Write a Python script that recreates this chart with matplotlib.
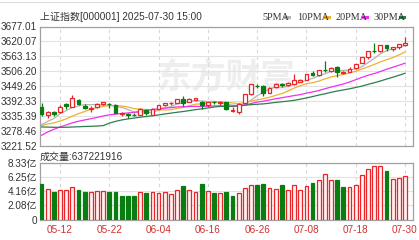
import numpy as np
import matplotlib
matplotlib.use('Agg')
import matplotlib.pyplot as plt

plt.rcParams['font.family'] = ['Liberation Sans', 'Noto Sans CJK SC', 'DejaVu Sans']

# trading days 2025-05-07 .. 2025-07-30
opens = [3371, 3339, 3350, 3352, 3381, 3372, 3398, 3374, 3361, 3371,
         3382, 3383, 3379, 3344, 3345, 3341, 3341, 3358, 3340, 3363,
         3377, 3384, 3387, 3400, 3388, 3398, 3388, 3376, 3389, 3386,
         3390, 3356, 3351, 3384, 3420, 3452, 3452, 3424, 3446, 3457,
         3455, 3457, 3467, 3474, 3500, 3491, 3512, 3507, 3522, 3501,
         3505, 3517, 3537, 3560, 3585, 3582, 3605, 3590, 3597, 3605]
highs = [3387, 3355, 3355, 3378, 3384, 3417, 3401, 3383, 3374, 3385,
         3391, 3386, 3383, 3352, 3347, 3349, 3365, 3362, 3368, 3377,
         3387, 3388, 3401, 3411, 3404, 3404, 3393, 3391, 3393, 3394,
         3391, 3369, 3386, 3421, 3458, 3456, 3453, 3445, 3460, 3462,
         3465, 3497, 3476, 3497, 3506, 3511, 3544, 3522, 3526, 3509,
         3521, 3535, 3560, 3583, 3613, 3606, 3608, 3600, 3610, 3636]
lows = [3335, 3330, 3335, 3349, 3362, 3371, 3377, 3362, 3353, 3368,
        3376, 3366, 3347, 3336, 3327, 3337, 3340, 3338, 3340, 3361,
        3374, 3376, 3385, 3374, 3388, 3393, 3364, 3370, 3381, 3378,
        3359, 3353, 3344, 3384, 3415, 3441, 3414, 3422, 3442, 3448,
        3449, 3453, 3464, 3472, 3487, 3489, 3503, 3503, 3485, 3496,
        3503, 3516, 3537, 3555, 3575, 3580, 3583, 3584, 3590, 3603]
closes = [3342.67, 3352.00, 3342.00, 3369.24, 3374.87, 3403.95, 3380.82, 3367.46, 3367.58, 3380.48,
          3387.57, 3380.19, 3348.37, 3346.84, 3340.69, 3339.93, 3363.45, 3347.49, 3361.98, 3376.20,
          3384.82, 3385.36, 3399.77, 3384.82, 3402.32, 3402.66, 3377.00, 3388.81, 3387.40, 3388.81,
          3362.11, 3359.90, 3381.58, 3420.57, 3455.97, 3448.45, 3424.23, 3444.43, 3457.75, 3454.79,
          3461.15, 3472.32, 3473.13, 3497.48, 3493.05, 3509.68, 3510.18, 3519.65, 3505.00, 3503.78,
          3516.83, 3534.48, 3559.79, 3581.86, 3582.30, 3605.73, 3593.66, 3597.94, 3609.71, 3615.72]

ma5 = [3302.6, 3315.3, 3326.4, 3344.4, 3356.2, 3368.4, 3374.2, 3379.3, 3378.9, 3380.1,
       3376.8, 3376.7, 3372.8, 3368.7, 3360.7, 3351.2, 3347.9, 3347.7, 3350.7, 3357.8,
       3366.8, 3371.2, 3381.6, 3386.2, 3391.4, 3395.0, 3393.3, 3391.1, 3391.6, 3388.9,
       3380.8, 3377.4, 3376.0, 3382.6, 3396.0, 3413.3, 3426.2, 3438.7, 3446.2, 3445.9,
       3448.5, 3458.1, 3463.8, 3471.8, 3479.4, 3489.1, 3496.7, 3506.0, 3507.5, 3509.7,
       3511.1, 3515.9, 3524.0, 3539.3, 3555.1, 3572.8, 3584.7, 3592.3, 3597.9, 3604.6]
ma10 = [3299.3, 3305.3, 3309.6, 3316.8, 3324.6, 3335.5, 3344.7, 3352.8, 3361.7, 3368.1,
        3372.6, 3375.4, 3376.1, 3373.8, 3370.4, 3364.0, 3362.3, 3360.3, 3359.7, 3359.3,
        3359.0, 3359.5, 3364.7, 3368.5, 3374.6, 3380.9, 3382.2, 3386.4, 3388.9, 3390.2,
        3387.9, 3385.4, 3383.5, 3387.1, 3392.5, 3397.1, 3401.8, 3407.3, 3414.4, 3421.0,
        3430.9, 3442.1, 3451.3, 3459.0, 3462.7, 3468.8, 3477.4, 3484.9, 3489.6, 3494.5,
        3500.1, 3506.3, 3515.0, 3523.4, 3532.4, 3542.0, 3550.3, 3558.1, 3568.6, 3579.8]
ma20 = [3262.4, 3275.1, 3285.0, 3294.1, 3301.6, 3309.9, 3315.8, 3320.8, 3325.4, 3330.4,
        3335.9, 3340.4, 3342.8, 3345.3, 3347.5, 3349.7, 3353.5, 3356.5, 3360.7, 3363.7,
        3365.8, 3367.5, 3370.4, 3371.1, 3372.5, 3372.4, 3372.2, 3373.3, 3374.3, 3374.7,
        3373.5, 3372.4, 3374.1, 3377.8, 3383.5, 3389.0, 3392.0, 3396.9, 3401.6, 3405.6,
        3409.4, 3413.7, 3417.4, 3423.0, 3427.6, 3432.9, 3439.6, 3446.1, 3452.0, 3457.8,
        3465.5, 3474.2, 3483.1, 3491.2, 3497.5, 3505.4, 3513.9, 3521.5, 3529.1, 3537.2]
ma30 = [3294.1, 3293.6, 3292.7, 3292.7, 3292.9, 3293.9, 3294.9, 3295.9, 3296.6, 3297.6,
        3299.1, 3308.6, 3315.3, 3320.7, 3324.6, 3327.9, 3331.3, 3334.0, 3336.8, 3340.0,
        3343.6, 3346.8, 3350.1, 3353.0, 3356.5, 3360.1, 3363.1, 3366.5, 3370.1, 3372.5,
        3373.2, 3373.4, 3374.7, 3376.5, 3379.2, 3380.6, 3382.1, 3384.7, 3387.7, 3390.1,
        3392.6, 3395.7, 3399.8, 3404.8, 3409.9, 3415.6, 3420.5, 3426.2, 3431.0, 3435.2,
        3439.6, 3444.6, 3449.9, 3456.5, 3462.5, 3469.3, 3476.5, 3483.5, 3490.9, 3498.4]

# volume in 亿 shares
volumes = [5.18, 4.43, 4.08, 4.28, 4.28, 4.73, 4.28, 4.08, 4.08, 4.13,
           4.13, 4.08, 4.08, 3.53, 3.43, 3.43, 4.08, 3.88, 4.08, 3.88,
           4.08, 3.83, 4.28, 4.93, 4.28, 4.08, 5.18, 4.13, 3.93, 3.88,
           4.08, 3.53, 3.93, 4.58, 5.13, 5.03, 5.28, 4.58, 4.53, 5.03,
           4.38, 5.13, 4.38, 4.98, 5.33, 5.78, 6.73, 5.88, 5.88, 4.73,
           4.73, 5.03, 6.53, 7.38, 7.88, 7.88, 7.13, 6.03, 6.18, 6.37]

date_ticks = [3, 11, 19, 27, 35, 43, 51, 59]
date_labels = ['05-12', '05-22', '06-04', '06-16', '06-26', '07-08', '07-18', '07-30']
price_ticks = [3221.52, 3278.46, 3335.39, 3392.33, 3449.26, 3506.20, 3563.13, 3620.07, 3677.01]
vol_ticks = [0, 2.08, 4.16, 6.25, 8.33]
vol_labels = ['0', '2.08亿', '4.16亿', '6.25亿', '8.33亿']

RED = '#e8262a'
GREEN = '#0a7d12'
MA_COLORS = ['#b4b4b4', '#f0b030', '#f030f0', '#2e7d4e']
TXT = '#333333'
FS = 7.2
W, H = 419, 240

fig = plt.figure(figsize=(W / 100, H / 100), dpi=100)
fig.patch.set_facecolor('white')

ax = fig.add_axes([40 / W, 1 - 146 / H, 373 / W, 119.5 / H])
axv = fig.add_axes([40 / W, 1 - 219.5 / H, 373 / W, 56.5 / H])

x = np.arange(len(closes))

# watermark
ax.text(0.5, 0.58, '东方财富', transform=ax.transAxes, fontsize=25,
        color='#eeeeee', ha='center', va='center', style='italic',
        family=['Noto Sans CJK SC'], fontweight='bold', zorder=0)

for a in (ax, axv):
    a.set_xlim(-0.25, 60.3)
    a.set_xticks(date_ticks)
    a.grid(axis='y', color='#e2e2e2', lw=0.8)
    a.grid(axis='x', color='#d8d8d8', lw=0.8, ls=(0, (3, 3)))
    a.set_axisbelow(True)
    a.tick_params(length=0, labelsize=FS, colors=TXT, pad=2)
    for s in a.spines.values():
        s.set_color('#a0a0a0')
        s.set_linewidth(0.9)

ax.set_ylim(price_ticks[0], price_ticks[-1])
ax.set_yticks(price_ticks)
ax.set_yticklabels([f'{v:.2f}' for v in price_ticks])
ax.set_xticklabels([])

# moving averages
for ma, c in zip([ma5, ma10, ma20, ma30], MA_COLORS):
    ax.plot(x, ma, color=c, lw=0.9, zorder=2)

# candles
bw = 0.62
for i in x:
    o, h, l, c = opens[i], highs[i], lows[i], closes[i]
    up = c >= o
    col = RED if up else GREEN
    lo_b, hi_b = min(o, c), max(o, c)
    ax.vlines(i, l, lo_b, color=col, lw=0.9, zorder=3)
    ax.vlines(i, hi_b, h, color=col, lw=0.9, zorder=3)
    if hi_b - lo_b < 1.5:
        ax.hlines(c, i - bw / 2, i + bw / 2, color=col, lw=1.0, zorder=4)
    else:
        ax.bar(i, hi_b - lo_b, bottom=lo_b, width=bw,
               facecolor='white' if up else GREEN, edgecolor=col,
               lw=0.9, zorder=4)

# volume, coloured by change vs previous close
prev = [opens[0]] + closes[:-1]
for i in x:
    up = closes[i] >= prev[i]
    axv.bar(i, volumes[i], width=bw,
            facecolor='#fff2f2' if up else GREEN,
            edgecolor=RED if up else GREEN, lw=0.9, zorder=3)

axv.set_ylim(0, 8.33)
axv.set_yticks(vol_ticks)
axv.set_yticklabels(vol_labels)
axv.set_xticklabels(date_labels, color='#d03030', fontsize=FS)
axv.tick_params(axis='x', pad=4)

# header texts
fig.text(40 / W, 1 - 17 / H, '上证指数[000001] 2025-07-30 15:00', fontsize=FS,
         color=TXT, va='center', ha='left')
fig.text(40 / W, 1 - 157 / H, '成交量:637221916', fontsize=FS,
         color=TXT, va='center', ha='left')

legend_items = [('5PMA', 262.7, 285), ('10PMA', 297, 325),
                ('20PMA', 335, 362.7), ('30PMA', 373, 400)]
for (lab, tx, dx), c in zip(legend_items, MA_COLORS):
    fig.text(tx / W, 1 - 17 / H, lab, fontsize=7.3, color=TXT, va='center',
             ha='left', family='Liberation Serif')
    fig.add_artist(plt.Line2D([dx / W, (dx + 4) / W], [1 - 17 / H, 1 - 17 / H],
                              color=c, lw=2.2))

fig.add_artist(plt.Line2D([0, 1], [1 - 1.5 / H, 1 - 1.5 / H], color='#dddddd', lw=0.8))

fig.savefig('out.png', dpi=100, facecolor='white')
